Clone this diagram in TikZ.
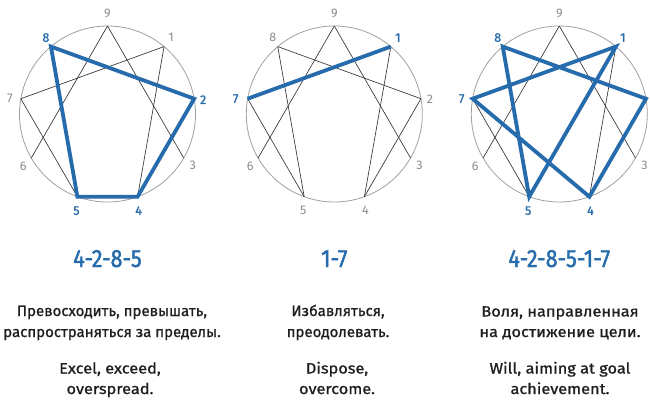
\documentclass[tikz,border=0pt]{standalone}
\usepackage{fontspec}
\setmainfont{Fira Sans}
\newfontfamily\txtfont{Fira Sans}[FakeBold=1.0,FakeStretch=1.0]
\newfontfamily\wtxtfont{Fira Sans}[FakeBold=1.0,FakeStretch=1.09]
\newfontfamily\ttlfont{Fira Sans}[FakeBold=1.5,FakeStretch=0.86]
\newfontfamily\labfont{Fira Sans}
\newfontfamily\blabfont{Fira Sans}[FakeBold=1]
\usetikzlibrary{calc}
\definecolor{eblue}{RGB}{38,108,172}
\definecolor{egray}{RGB}{140,140,140}
\definecolor{ecirc}{RGB}{160,160,160}
\definecolor{etext}{RGB}{30,30,30}
\tikzset{
  ring/.style={draw=ecirc, line width=0.8pt},
  thinline/.style={draw=black!80, line width=0.65pt},
  hiline/.style={draw=eblue, line width=3.8pt, line join=miter},
  glab/.style={font=\labfont\fontsize{12.5}{12.5}\selectfont, text=egray, inner sep=0pt},
  blab/.style={font=\blabfont\fontsize{12.5}{12.5}\selectfont, text=eblue, inner sep=0pt},
  ttl/.style={font=\ttlfont\fontsize{25}{25}\selectfont, text=eblue, inner sep=0pt, anchor=base},
  body/.style={font=\txtfont\fontsize{15}{21}\selectfont, text=etext, inner sep=0pt, align=center, anchor=base},
  wbody/.style={body, font=\wtxtfont\fontsize{15}{20.5}\selectfont}
}
\begin{document}
\begin{tikzpicture}[x=1pt,y=-1pt]
\useasboundingbox (0,0) rectangle (650,404);
% vertex coordinates for the three enneagrams
\foreach \n/\cx in {A/107.5,B/334.3,C/559.3}{
  \coordinate (\n O) at (\cx,114);
  \foreach \k in {1,...,9}{
    \coordinate (\n\k) at ({\cx+88*cos(90-40*\k)},{114-88*sin(90-40*\k)});
  }
}
% circles
\foreach \n in {A,B,C}{ \draw[ring] (\n O) circle[radius=88pt]; }
% ---- enneagram A : 4-2-8-5
\draw[thinline] (A9) -- (A6);
\draw[thinline] (A9) -- (A3);
\draw[thinline] (A1) -- (A7);
\draw[thinline] (A1) -- (A4);
\draw[thinline] (A7) -- (A5);
\draw[hiline] (A4) -- (A2) -- (A8) -- (A5) -- cycle;
% ---- enneagram B : 1-7
\draw[thinline] (B9) -- (B6);
\draw[thinline] (B9) -- (B3);
\draw[thinline] (B8) -- (B2);
\draw[thinline] (B8) -- (B5);
\draw[thinline] (B2) -- (B4);
\draw[thinline] (B7) -- (B5);
\draw[thinline] (B1) -- (B4);
\draw[hiline] (B1) -- (B7);
% ---- enneagram C : 4-2-8-5-1-7
\draw[thinline] (C9) -- (C6);
\draw[thinline] (C9) -- (C3);
\draw[thinline] (C7) -- (C5);
\draw[thinline] (C1) -- (C4);
\draw[hiline] (C4) -- (C2) -- (C8) -- (C5) -- (C1) -- (C7) -- cycle;
% ---- point labels
\foreach \n in {A,B,C}{
  \node[glab] (\n9l) at ($(\n9)+(0,-13)$) {9};
  \node[glab] (\n3l) at ($(\n3)+(9,7)$) {3};
  \node[glab] (\n6l) at ($(\n6)+(-8,8)$) {6};
}
% A
\node[blab] (A8l) at ($(A8)+(-5,-9)$) {8};
\node[glab] (A1l) at ($(A1)+(7,-9)$) {1};
\node[blab] (A2l) at ($(A2)+(9,1)$) {2};
\node[glab] (A7l) at ($(A7)+(-11,0)$) {7};
\node[blab] (A5l) at ($(A5)+(-1,14)$) {5};
\node[blab] (A4l) at ($(A4)+(1,14)$) {4};
% B
\node[glab] (B8l) at ($(B8)+(-5,-9)$) {8};
\node[blab] (B1l) at ($(B1)+(7,-9)$) {1};
\node[glab] (B2l) at ($(B2)+(9,1)$) {2};
\node[blab] (B7l) at ($(B7)+(-12,0)$) {7};
\node[glab] (B5l) at ($(B5)+(-1,14)$) {5};
\node[glab] (B4l) at ($(B4)+(1,14)$) {4};
% C
\node[blab] (C8l) at ($(C8)+(-5,-9)$) {8};
\node[blab] (C1l) at ($(C1)+(7,-9)$) {1};
\node[blab] (C7l) at ($(C7)+(-11,0)$) {7};
\node[blab] (C5l) at ($(C5)+(-1,14)$) {5};
\node[blab] (C4l) at ($(C4)+(1,14)$) {4};
% ---- titles
\node[ttl] (At) at (107.5,267) {4-2-8-5};
\node[ttl] (Bt) at (334.3,267) {1-7};
\node[ttl] (Ct) at (559.3,267) {4-2-8-5-1-7};
% ---- descriptions (anchor = baseline of the last line)
\node[body] (Ar) at (112,337) {Превосходить, превышать,\\распространяться за пределы.};
\node[body] (Br) at (338,337) {Избавляться,\\преодолевать.};
\node[wbody] (Cr) at (560,337) {Воля, направленная\\на достижение цели.};
\node[wbody] (Ae) at (110,394) {Excel, exceed,\\overspread.};
\node[wbody] (Be) at (337,394) {Dispose,\\overcome.};
\node[wbody] (Ce) at (560,394) {Will, aiming at goal\\achievement.};
\end{tikzpicture}
\end{document}
